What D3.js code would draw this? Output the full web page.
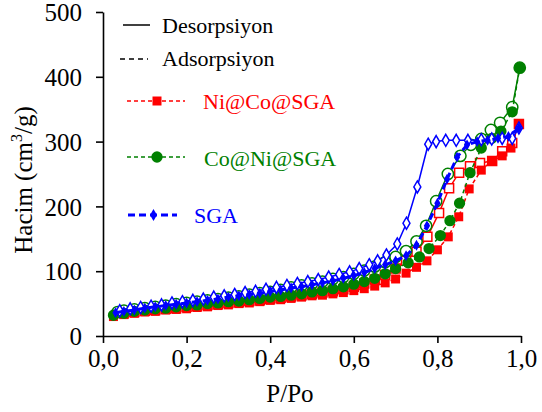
<!DOCTYPE html>
<html>
<head>
<meta charset="utf-8">
<script src="https://cdn.jsdelivr.net/npm/d3@7"></script>
<style>
  body { margin: 0; background: #fff; }
  svg { display: block; }
  svg text { font-family: "Liberation Serif", "Times New Roman", Times, serif !important; }
</style>
</head>
<body>
<svg id="chart"></svg>
<script>
const W = 542, H = 412;
const SERIF = "'Liberation Serif', 'Times New Roman', Times, serif";

// ---- data: [P/Po, volume cm3/g] ----
const niCoAds = [[0.025,30],[0.05,33],[0.075,35],[0.1,37],[0.125,38],[0.15,40],[0.175,41],[0.2,42],
  [0.225,44],[0.25,45],[0.275,47],[0.3,48],[0.325,50],[0.35,51],[0.375,53],[0.4,55],[0.425,56],
  [0.45,58],[0.475,60],[0.5,62],[0.525,63],[0.55,65],[0.575,67],[0.6,70],[0.625,73],[0.65,77],
  [0.675,82],[0.7,88],[0.725,97],[0.75,106],[0.775,116],[0.8,133],[0.826,153],[0.851,184],
  [0.876,227],[0.905,256],[0.93,270],[0.955,278],[0.976,290],[0.995,327]];
const niCoDes = [[0.995,327],[0.979,298],[0.955,285],[0.931,270],[0.902,267],[0.878,262],[0.852,252],
  [0.828,228],[0.804,190],[0.776,153],[0.75,130],[0.725,116],[0.7,104],[0.675,94],[0.65,87],
  [0.625,81],[0.6,76],[0.575,72],[0.55,69],[0.525,67],[0.5,65],[0.475,63],[0.45,61],[0.425,59],
  [0.4,57],[0.375,55],[0.35,54],[0.325,52],[0.3,51],[0.275,49],[0.25,48],[0.225,46],[0.2,45],
  [0.175,43],[0.15,42],[0.125,40],[0.1,39],[0.075,37],[0.05,35]];

const coNiAds = [[0.025,32],[0.05,35],[0.075,38],[0.1,40],[0.125,42],[0.15,43],[0.175,45],[0.2,47],
  [0.225,48],[0.25,50],[0.275,51],[0.3,53],[0.325,54],[0.35,56],[0.375,58],[0.4,60],[0.425,61],
  [0.45,63],[0.475,65],[0.5,68],[0.525,70],[0.55,73],[0.575,76],[0.6,80],[0.625,84],[0.65,89],
  [0.675,96],[0.7,104],[0.73,113],[0.757,122],[0.78,135],[0.807,155],[0.83,178],[0.853,205],
  [0.878,252],[0.905,290],[0.93,305],[0.952,316],[0.979,346],[0.997,414]];
const coNiDes = [[0.997,414],[0.979,353],[0.95,329],[0.928,318],[0.905,304],[0.88,295],[0.855,278],
  [0.825,250],[0.797,208],[0.773,170],[0.75,146],[0.725,131],[0.7,122],[0.675,114],[0.65,107],
  [0.625,101],[0.6,96],[0.575,91],[0.55,88],[0.525,84],[0.5,81],[0.475,78],[0.45,75],[0.425,71],
  [0.4,68],[0.375,66],[0.35,64],[0.325,61],[0.3,59],[0.275,57],[0.25,55],[0.225,53],[0.2,51],
  [0.175,49],[0.15,47],[0.125,45],[0.1,43],[0.075,41],[0.05,39],[0.035,37]];

const sgaAds = [[0.03,36],[0.05,38],[0.075,40],[0.1,43],[0.125,45],[0.15,47],[0.175,49],[0.2,51],
  [0.225,53],[0.25,55],[0.275,57],[0.3,60],[0.325,62],[0.35,64],[0.375,66],[0.4,69],[0.425,71],
  [0.45,74],[0.475,76],[0.5,79],[0.525,82],[0.55,85],[0.575,89],[0.6,93],[0.625,98],[0.65,104],
  [0.675,110],[0.7,116],[0.725,124],[0.75,140],[0.775,170],[0.8,205],[0.823,242],[0.847,276],
  [0.871,295],[0.895,300],[0.92,302],[0.945,305],[0.97,308],[0.995,321]];
const sgaDes = [[0.995,321],[0.979,305],[0.955,305],[0.93,304],[0.905,303],[0.873,302],[0.845,302],
  [0.82,302],[0.797,300],[0.778,296],[0.752,230],[0.726,174],[0.704,142],[0.678,125],[0.657,116],
  [0.637,110],[0.613,104],[0.59,99],[0.565,95],[0.54,91],[0.515,87],[0.49,84],[0.465,81],[0.44,78],
  [0.415,75],[0.39,72],[0.365,69],[0.34,67],[0.315,64],[0.29,62],[0.265,60],[0.24,57],[0.215,55],
  [0.19,53],[0.165,51],[0.14,48],[0.115,46],[0.09,44],[0.065,42],[0.04,39]];

const xTicks = [0, 0.2, 0.4, 0.6, 0.8, 1.0];
const yTicks = [0, 100, 200, 300, 400, 500];

const series = [
  { name: "Ni@Co@SGA", color: "#ff0000", shape: "square", ads: niCoAds, des: niCoDes },
  { name: "Co@Ni@SGA", color: "#008000", shape: "circle", ads: coNiAds, des: coNiDes },
  { name: "SGA", color: "#0000ff", shape: "diamond", ads: sgaAds, des: sgaDes }
];

const margin = { top: 12, right: 20, bottom: 76, left: 103 };
const width = W - margin.left - margin.right;
const height = H - margin.top - margin.bottom;

const svg = d3.select("#chart").attr("width", W).attr("height", H)
  .attr("font-family", SERIF);

const x = d3.scaleLinear().domain([0, 1]).range([0, width - 1]);
const y = d3.scaleLinear().domain([0, 500]).range([height, 0]);

const g = svg.append("g").attr("transform", `translate(${margin.left},${margin.top})`);

const fmt = d => d3.format(".1f")(d).replace(".", ",");

// axes
const xAxis = g.append("g")
  .attr("transform", `translate(0,${height})`)
  .call(d3.axisBottom(x).tickValues(xTicks).tickFormat(fmt).tickSize(7).tickSizeOuter(0).tickPadding(6));
const yAxis = g.append("g")
  .call(d3.axisLeft(y).tickValues(yTicks).tickSize(7).tickSizeOuter(0).tickPadding(14));

[xAxis, yAxis].forEach(a => {
  a.attr("font-family", SERIF).attr("font-size", 25);
  a.selectAll("path, line").attr("stroke", "#000").attr("stroke-width", 1.6);
  a.selectAll("text").attr("fill", "#000");
});
yAxis.selectAll("text").attr("dy", "0.35em");

// axis titles
svg.append("text")
  .attr("x", 290).attr("y", 402)
  .attr("text-anchor", "middle").attr("font-size", 25)
  .text("P/Po");

const yl = svg.append("text")
  .attr("transform", "translate(32,180) rotate(-90)")
  .attr("text-anchor", "middle").attr("font-size", 25);
yl.append("tspan").text("Hacim (cm");
yl.append("tspan").attr("font-size", 16).attr("dy", -10).text("3");
yl.append("tspan").attr("dy", 10).text("/g)");

// markers
function symbolFor(shape, big) {
  if (shape === "square") return d3.symbol().type(d3.symbolSquare).size(81)();
  if (shape === "circle") return d3.symbol().type(d3.symbolCircle).size(100)();
  return d3.symbol().type(d3.symbolDiamond).size(big ? 42 : 34)();
}

const line = d3.line().x(d => x(d[0])).y(d => y(d[1]));

series.forEach(s => {
  const isSga = s.shape === "diamond";
  // desorption: solid line, open markers
  g.append("path").datum(s.des)
    .attr("d", line).attr("fill", "none").attr("stroke", s.color)
    .attr("stroke-width", 1.5);
  g.selectAll(null).data(s.des).join("path")
    .attr("d", symbolFor(s.shape, true))
    .attr("transform", d => `translate(${x(d[0])},${y(d[1])})`)
    .attr("fill", "#fff").attr("stroke", s.color).attr("stroke-width", 1.5);
  // adsorption: dashed line, filled markers
  g.append("path").datum(s.ads)
    .attr("d", line).attr("fill", "none").attr("stroke", s.color)
    .attr("stroke-width", isSga ? 3 : 1.5)
    .attr("stroke-dasharray", isSga ? "7,4" : "4,3");
  g.selectAll(null).data(s.ads).join("path")
    .attr("d", symbolFor(s.shape, false))
    .attr("transform", d => `translate(${x(d[0])},${y(d[1])})`)
    .attr("fill", s.color);
});

// legend
const lg = svg.append("g");
lg.append("line").attr("x1", 123).attr("x2", 150).attr("y1", 25).attr("y2", 25)
  .attr("stroke", "#000").attr("stroke-width", 1.5);
lg.append("text").attr("x", 162).attr("y", 33).attr("font-size", 22).text("Desorpsiyon");
lg.append("line").attr("x1", 120).attr("x2", 148).attr("y1", 59).attr("y2", 59)
  .attr("stroke", "#000").attr("stroke-width", 1.5).attr("stroke-dasharray", "5,4");
lg.append("text").attr("x", 162).attr("y", 66).attr("font-size", 22).text("Adsorpsiyon");

const legendRows = [
  { y: 101, x1: 127, x2: 185, tx: 203, ty: 109 },
  { y: 157, x1: 127, x2: 185, tx: 204, ty: 166 },
  { y: 215, x1: 128, x2: 177, tx: 194, ty: 223 }
];
series.forEach((s, i) => {
  const r = legendRows[i];
  const isSga = s.shape === "diamond";
  lg.append("line").attr("x1", r.x1).attr("x2", r.x2).attr("y1", r.y).attr("y2", r.y)
    .attr("stroke", s.color).attr("stroke-width", isSga ? 3 : 1.5)
    .attr("stroke-dasharray", isSga ? "7,4" : "4,3");
  lg.append("path").attr("d", symbolFor(s.shape, true))
    .attr("transform", `translate(${(r.x1 + r.x2) / 2 + 1},${r.y})`)
    .attr("fill", s.color);
  lg.append("text").attr("x", r.tx).attr("y", r.ty).attr("font-size", 22)
    .attr("fill", s.color).text(s.name);
});
</script>
</body>
</html>
